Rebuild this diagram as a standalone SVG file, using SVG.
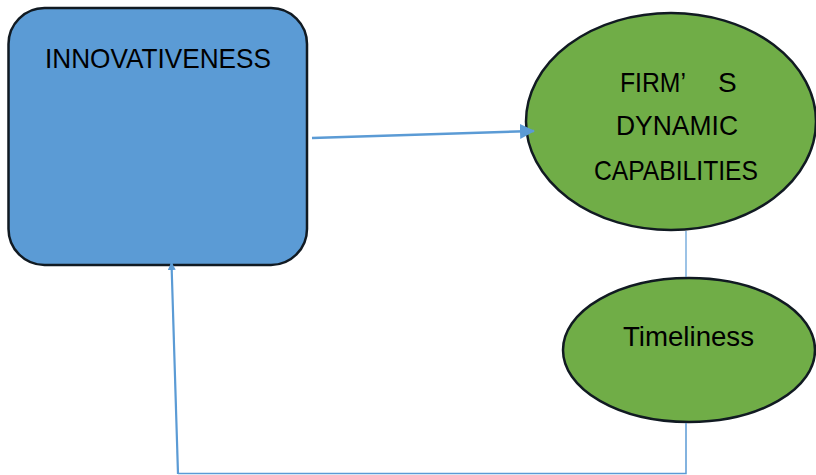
<svg xmlns="http://www.w3.org/2000/svg" width="816" height="475" viewBox="0 0 816 475">
<defs>
<style>
.lbl{font-family:"Liberation Sans","Open Sans",Arial,sans-serif;font-size:28px;fill:#000;text-anchor:middle}
.node{stroke:#111a22;stroke-width:2.5}
.blue{fill:#5B9BD5}
.green{fill:#70AD47}
.conn{stroke:#5B9BD5;fill:none}
</style>
<marker id="ah" markerWidth="8" markerHeight="8" refX="7" refY="4" orient="auto" markerUnits="userSpaceOnUse" viewBox="0 0 8 8">
<path d="M0,0 L8,4 L0,8 Z" fill="#5B9BD5"/>
</marker>
<marker id="ahBig" markerWidth="15" markerHeight="15" refX="14" refY="7.5" orient="auto" markerUnits="userSpaceOnUse" viewBox="0 0 15 15">
<path d="M0,0 L15,7.5 L0,15 Z" fill="#5B9BD5"/>
</marker>
</defs>
<rect width="816" height="475" fill="#fff"/>
<g id="innovativeness">
<rect class="node blue" x="8.5" y="8" width="298.5" height="257" rx="36" ry="36"/>
<text class="lbl" x="158" y="68" textLength="226" lengthAdjust="spacingAndGlyphs">INNOVATIVENESS</text>
</g>
<g id="dynamic-capabilities">
<ellipse class="node green" cx="671" cy="121.5" rx="145" ry="108.5"/>
<text class="lbl" y="92" style="text-anchor:start"><tspan x="620" textLength="66" lengthAdjust="spacingAndGlyphs">FIRM’</tspan><tspan x="718">S</tspan></text>
<text class="lbl" x="677" y="135" textLength="122" lengthAdjust="spacingAndGlyphs">DYNAMIC</text>
<text class="lbl" x="676" y="180" textLength="164" lengthAdjust="spacingAndGlyphs">CAPABILITIES</text>
</g>
<g id="timeliness">
<ellipse class="node green" cx="689" cy="350" rx="126" ry="72"/>
<text class="lbl" x="688.5" y="346" textLength="131" lengthAdjust="spacingAndGlyphs">Timeliness</text>
</g>
<g id="connectors">
<line class="conn" x1="312" y1="138" x2="534" y2="131" stroke-width="2.5" marker-end="url(#ahBig)"/>
<line class="conn" x1="686" y1="231" x2="686" y2="277" stroke-width="1.2"/>
<polyline class="conn" points="686,423 686,473.5 178,473.5" stroke-width="1.5"/>
<line class="conn" x1="178" y1="474" x2="171.5" y2="263" stroke-width="2.2" marker-end="url(#ah)"/>
</g>
</svg>
